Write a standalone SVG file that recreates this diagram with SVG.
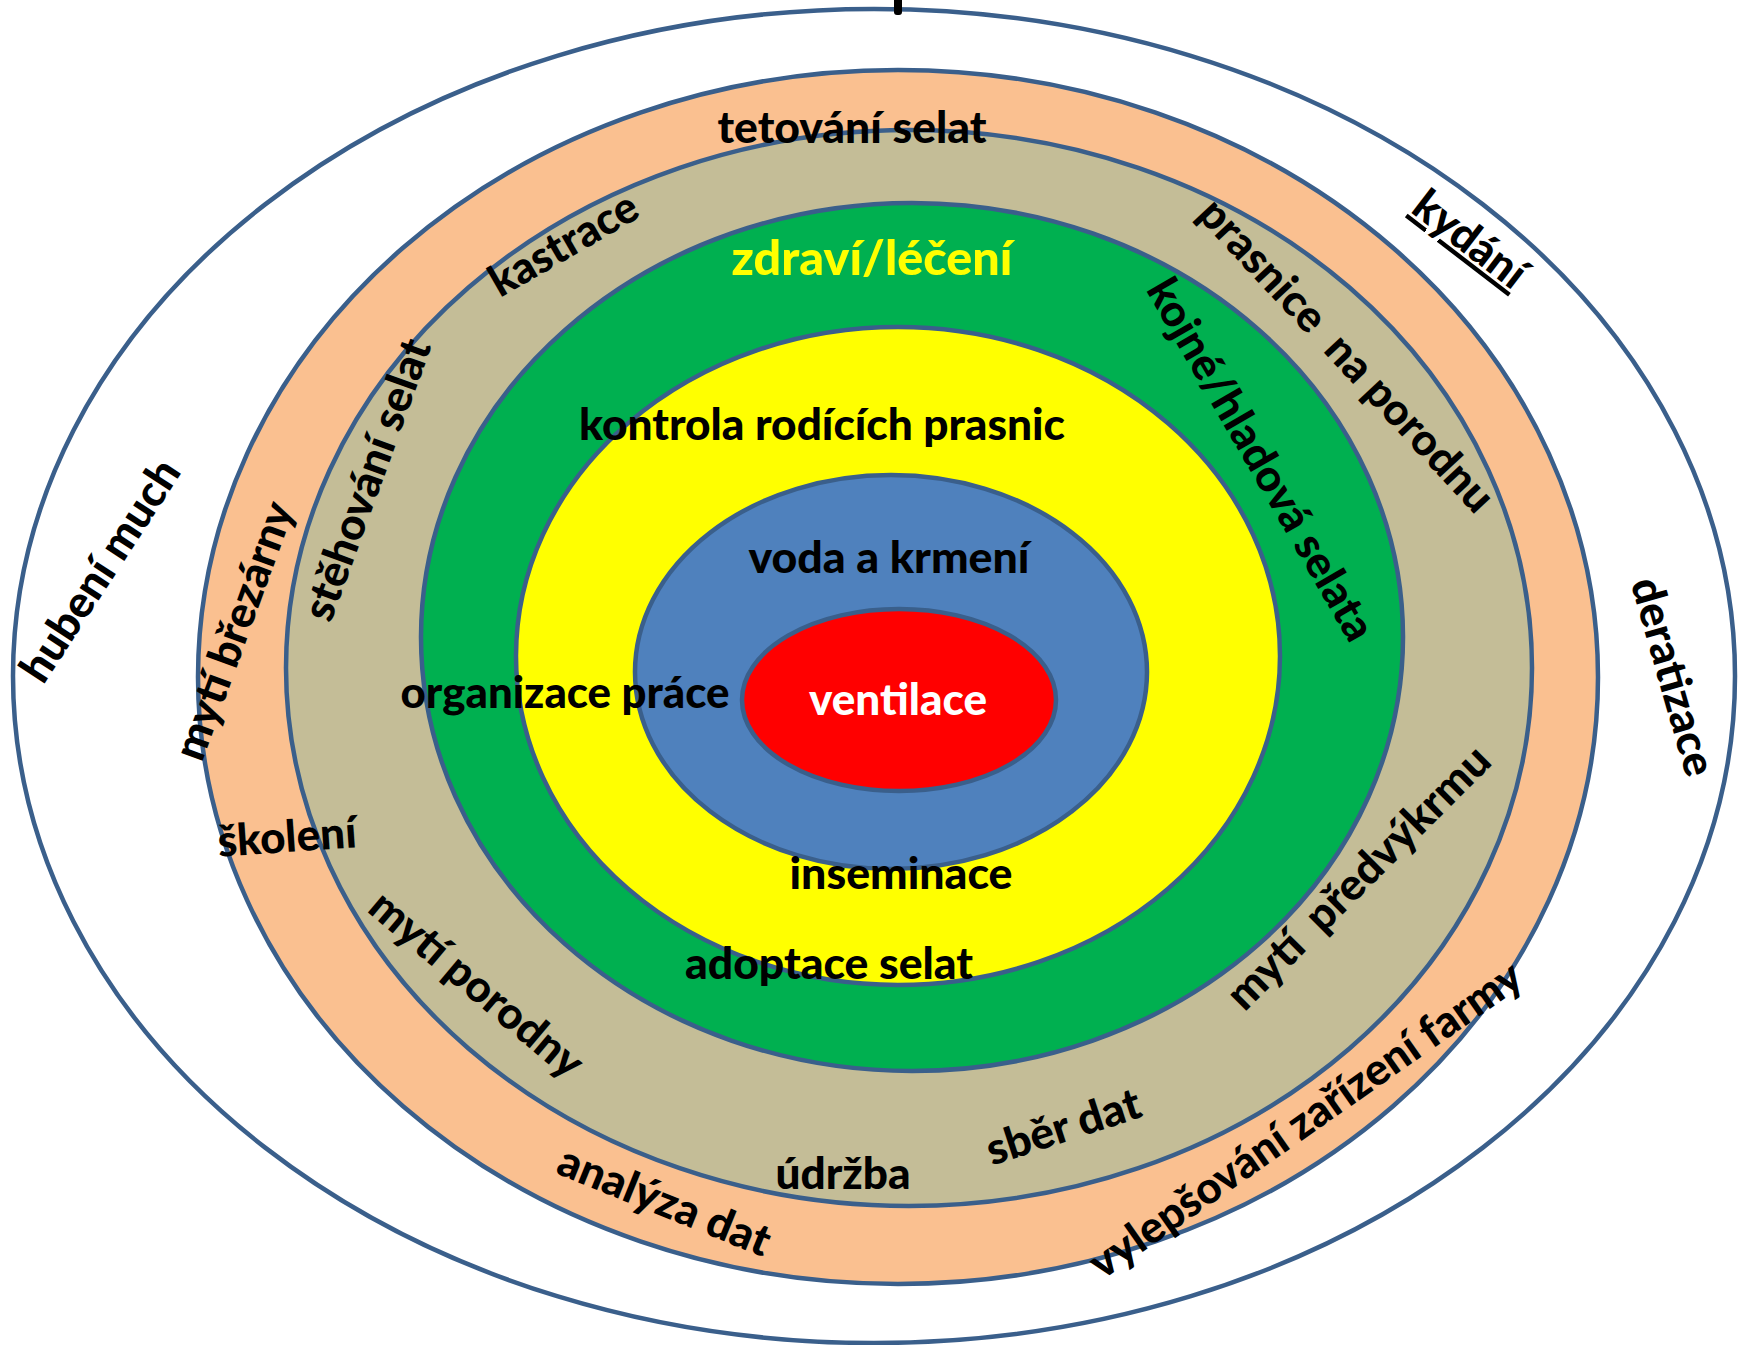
<svg xmlns="http://www.w3.org/2000/svg" width="1738" height="1345" viewBox="0 0 1738 1345">
<style>
.ring{stroke:#3A5F8B;stroke-width:4.5}
.t{font-family:Lato,"Open Sans","Liberation Sans",sans-serif;font-weight:900;font-size:44px;fill:#000;text-anchor:middle}
</style>
<rect x="0" y="0" width="1738" height="1345" fill="#FFFFFF"/>
<g id="rings">
<ellipse id="ring-outer" class="ring" cx="874" cy="676" rx="861" ry="667" fill="#FFFFFF"/>
<ellipse id="ring-orange" class="ring" cx="898" cy="677" rx="700" ry="607" fill="#FAC090"/>
<ellipse id="ring-tan" class="ring" cx="909" cy="668" rx="623" ry="538" fill="#C4BD97"/>
<ellipse id="ring-green" class="ring" cx="912" cy="637" rx="491" ry="434" fill="#00B050"/>
<ellipse id="ring-yellow" class="ring" cx="898" cy="656" rx="382" ry="329" fill="#FFFF00"/>
<ellipse id="ring-blue" class="ring" cx="891" cy="672" rx="256" ry="197" fill="#4F81BD"/>
<ellipse id="ring-red" class="ring" cx="899" cy="700" rx="157" ry="91" fill="#FF0000"/>
</g>
<rect x="894" y="-4" width="8" height="19" rx="3" fill="#000"/>
<g id="labels">
<text class="t" x="852" y="143" textLength="269" lengthAdjust="spacingAndGlyphs">tetování selat</text>
<text class="t" x="872" y="275" textLength="281" lengthAdjust="spacingAndGlyphs" style="fill:#FFFF00;font-size:48px">zdraví/léčení</text>
<text class="t" x="822" y="440" textLength="486" lengthAdjust="spacingAndGlyphs">kontrola rodících prasnic</text>
<text class="t" x="889" y="573" textLength="281" lengthAdjust="spacingAndGlyphs">voda a krmení</text>
<text class="t" x="565" y="708" textLength="329" lengthAdjust="spacingAndGlyphs">organizace práce</text>
<text class="t" x="898" y="715" textLength="178" lengthAdjust="spacingAndGlyphs" style="fill:#FFFFFF">ventilace</text>
<text class="t" x="901" y="889" textLength="223" lengthAdjust="spacingAndGlyphs">inseminace</text>
<text class="t" x="829" y="979" textLength="288" lengthAdjust="spacingAndGlyphs">adoptace selat</text>
<text class="t" x="843" y="1189" textLength="135" lengthAdjust="spacingAndGlyphs">údržba</text>

<text class="t" transform="translate(288,852) rotate(-4)" x="0" y="0" textLength="139" lengthAdjust="spacingAndGlyphs">školení</text>
<text class="t" transform="translate(1068,1141) rotate(-18)" x="0" y="0" textLength="160" lengthAdjust="spacingAndGlyphs">sběr dat</text>
<text class="t" transform="translate(1314,1132) rotate(-35)" x="0" y="0" textLength="517" lengthAdjust="spacingAndGlyphs">vylepšování zařízení farmy</text>
<text class="t" xml:space="preserve" transform="translate(1369,888) rotate(-45)" x="0" y="0" textLength="352" lengthAdjust="spacingAndGlyphs">mytí  předvýkrmu</text>
<text class="t" transform="translate(1461,251) rotate(37.5)" x="0" y="0" textLength="130" lengthAdjust="spacingAndGlyphs" text-decoration="underline">kydání</text>

<text class="t" transform="translate(564,245) rotate(-30)" x="0" y="14" textLength="164" lengthAdjust="spacingAndGlyphs">kastrace</text>
<text class="t" transform="translate(368,480) rotate(-70)" x="0" y="14" textLength="296" lengthAdjust="spacingAndGlyphs">stěhování selat</text>
<text class="t" transform="translate(235,631) rotate(-70)" x="0" y="14" textLength="271" lengthAdjust="spacingAndGlyphs">mytí březárny</text>
<text class="t" transform="translate(101,571) rotate(-57)" x="0" y="14" textLength="255" lengthAdjust="spacingAndGlyphs">hubení much</text>
<text class="t" transform="translate(476,985) rotate(40)" x="0" y="14" textLength="264" lengthAdjust="spacingAndGlyphs">mytí porodny</text>
<text class="t" transform="translate(664,1202) rotate(22)" x="0" y="14" textLength="225" lengthAdjust="spacingAndGlyphs">analýza dat</text>
<text class="t" transform="translate(1260,460) rotate(60)" x="0" y="14" textLength="410" lengthAdjust="spacingAndGlyphs">kojné/hladová selata</text>
<text class="t" xml:space="preserve" transform="translate(1346,356) rotate(47)" x="0" y="14" textLength="410" lengthAdjust="spacingAndGlyphs">prasnice  na porodnu</text>
<text class="t" transform="translate(1672,677) rotate(74)" x="0" y="14" textLength="204" lengthAdjust="spacingAndGlyphs">deratizace</text>
</g>
</svg>
